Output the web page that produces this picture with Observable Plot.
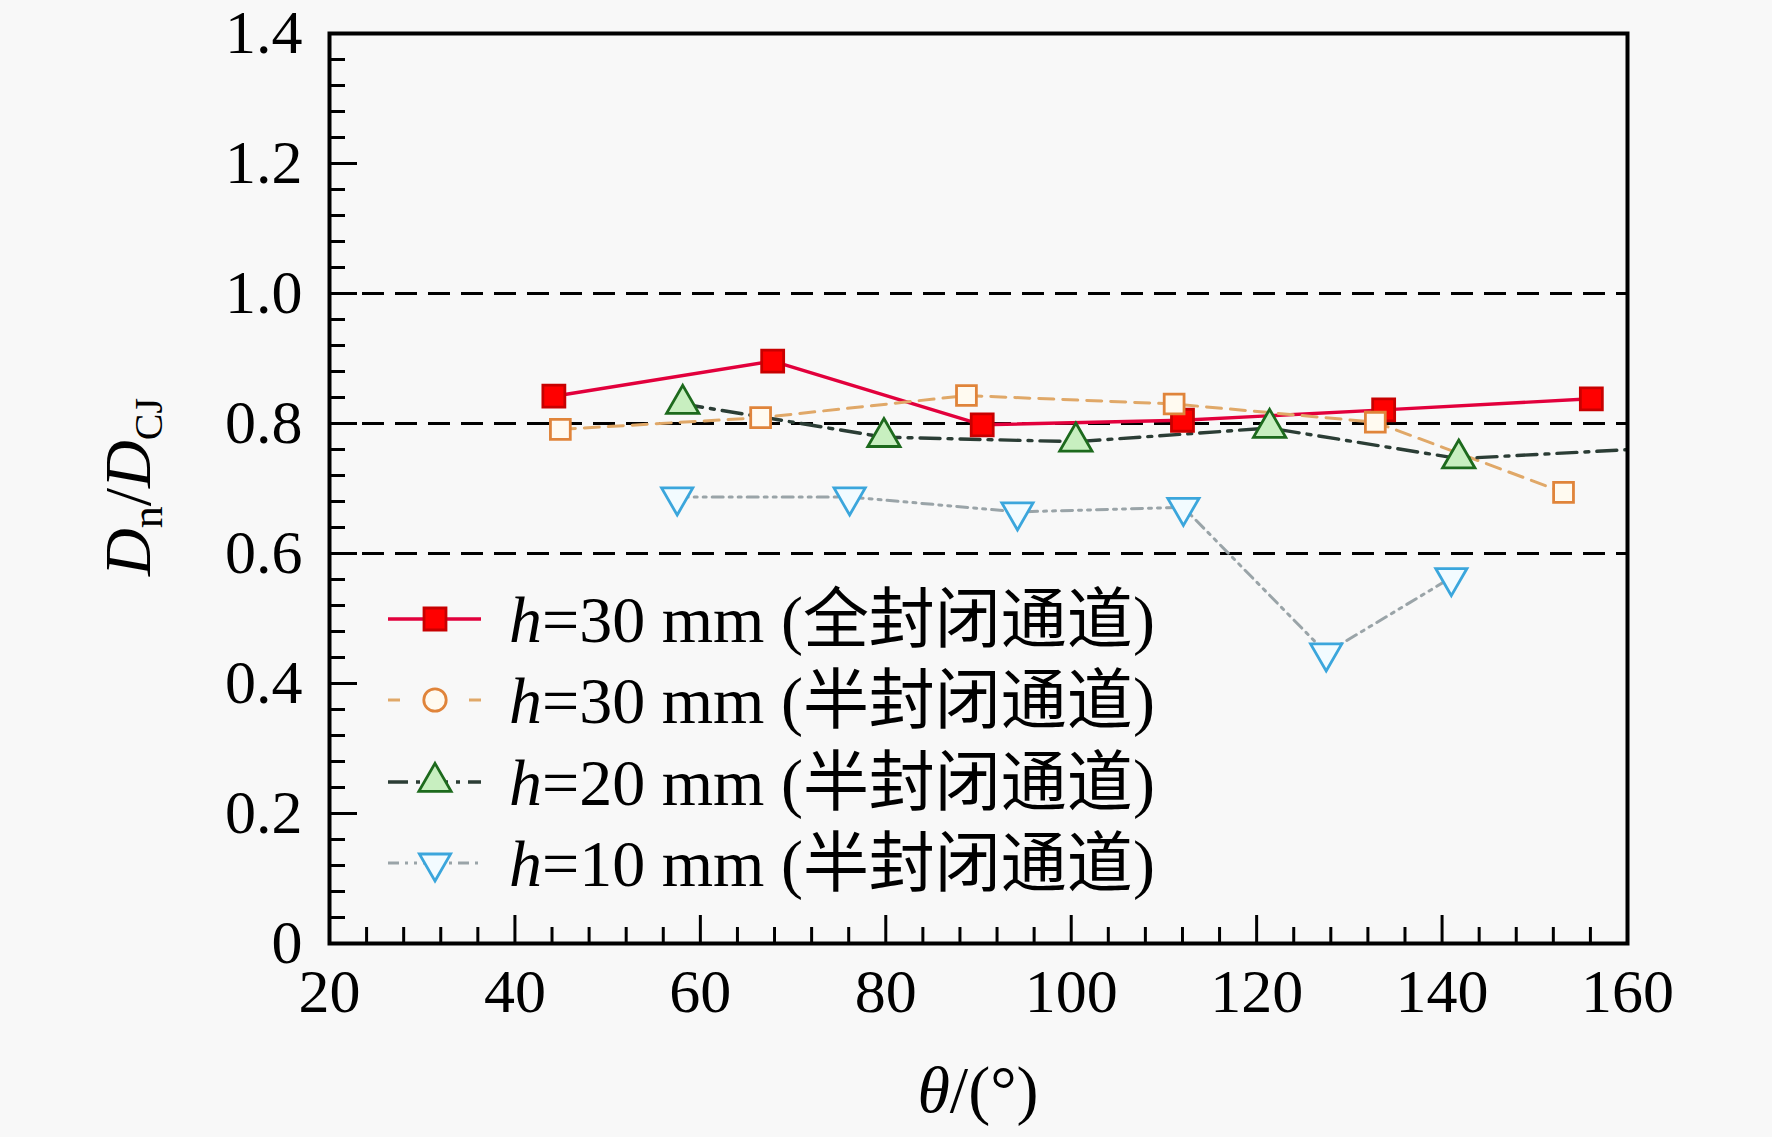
<!DOCTYPE html>
<html><head><meta charset="utf-8">
<script src="https://cdn.jsdelivr.net/npm/d3@7"></script>
<script src="https://cdn.jsdelivr.net/npm/@observablehq/plot@0.6"></script>
<style>
html,body{margin:0;padding:0;background:#f8f8f8;overflow:hidden}
#chart svg{display:block}
</style></head><body><div id="chart"></div>
<script>
// ---- data ----
const xFull30 = [44.2, 67.8, 90.4, 112.0, 133.7, 156.1];
const yFull30 = [0.842, 0.896, 0.798, 0.805, 0.821, 0.838];
const xSemi30 = [44.9, 66.5, 88.7, 111.1, 132.8, 153.1];
const ySemi30 = [0.791, 0.809, 0.843, 0.830, 0.802, 0.694];
const xSemi20 = [58.1, 79.8, 100.5, 121.4, 141.8, 163.0];
const ySemi20 = [0.830, 0.779, 0.772, 0.793, 0.746, 0.762];
const xSemi10 = [57.5, 76.1, 94.2, 112.1, 127.5, 141.0];
const ySemi10 = [0.687, 0.687, 0.664, 0.671, 0.447, 0.563];
const legendH = ["30", "30", "20", "10"];
const legendKind = ["全封闭通道", "半封闭通道", "半封闭通道", "半封闭通道"];
const xTicks = [20, 40, 60, 80, 100, 120, 140, 160];
const yTicks = [0, 0.2, 0.4, 0.6, 0.8, 1.0, 1.2, 1.4];
const refLines = [0.6, 0.8, 1.0];

const zip = (xs, ys) => xs.map((x, i) => ({x, y: ys[i]}));
const full30 = zip(xFull30, yFull30);
const semi30 = zip(xSemi30, ySemi30);
const semi20 = zip(xSemi20, ySemi20);
const semi10 = zip(xSemi10, ySemi10);

const xMinor = d3.range(20, 160.001, 4).filter(v => v % 20 !== 0);
const yMinor = d3.range(0, 1.4001, 0.04).map(v => +v.toFixed(2)).filter(v => Math.abs(v / 0.2 - Math.round(v / 0.2)) > 1e-6);

const W = 1772, H = 1137;
const mL = 329, mR = 145, mT = 33, mB = 194;
const pw = W - mL - mR, ph = H - mT - mB;

const downTriangle = {
  draw(ctx, size) {
    const y = -Math.sqrt(size / (Math.sqrt(3) * 3));
    ctx.moveTo(0, -y * 2);
    ctx.lineTo(-Math.sqrt(3) * y, y);
    ctx.lineTo(Math.sqrt(3) * y, y);
    ctx.closePath();
  }
};

const styles = [
  {line: "#e2003c", dash: null, width: 3.4, symbol: "square", fill: "#ff0000", stroke: "#c80000", r: 12.4},
  {line: "#e0a868", dash: "15,9", width: 3, symbol: "square", fill: "#fffaf0", stroke: "#e0843a", r: 11.2},
  {line: "#2b3d35", dash: "20,8,4,8", width: 3.4, symbol: "triangle", fill: "#c8efc0", stroke: "#1d6a1d", r: 12},
  {line: "#9aa4a8", dash: "11,6,3,6,3,6", width: 3, symbol: downTriangle, fill: "#f2fbff", stroke: "#3ba6dc", r: 11.6}
];
const sets = [full30, semi30, semi20, semi10];

const marks = [
  Plot.ruleY(refLines, {stroke: "black", strokeWidth: 3, strokeDasharray: "22,11"}),
];
sets.forEach((data, i) => {
  const s = styles[i];
  marks.push(Plot.line(data, {x: "x", y: "y", stroke: s.line, strokeWidth: s.width, strokeDasharray: s.dash, clip: true}));
});
sets.forEach((data, i) => {
  const s = styles[i];
  marks.push(Plot.dot(data, {x: "x", y: "y", symbol: s.symbol, r: s.r, fill: s.fill, stroke: s.stroke, strokeWidth: 2.8, clip: true}));
});
marks.push(
  Plot.tickY(yMinor, {y: d => d, insetRight: pw - 16, stroke: "black", strokeWidth: 3}),
  Plot.tickY(yTicks, {y: d => d, insetRight: pw - 28, stroke: "black", strokeWidth: 3}),
  Plot.tickX(xMinor, {x: d => d, insetTop: ph - 16, stroke: "black", strokeWidth: 3}),
  Plot.tickX(xTicks, {x: d => d, insetTop: ph - 28, stroke: "black", strokeWidth: 3}),
  Plot.axisY({ticks: yTicks, tickSize: 0, tickPadding: 27, label: null,
    tickFormat: d => d === 0 ? "0" : d.toFixed(1), fontSize: 62}),
  Plot.axisX({ticks: xTicks, tickSize: 0, tickPadding: 24, label: null,
    tickFormat: d => String(d), fontSize: 62}),
  Plot.frame({stroke: "black", strokeWidth: 4})
);

const chart = Plot.plot({
  width: W, height: H,
  marginLeft: mL, marginRight: mR, marginTop: mT, marginBottom: mB,
  x: {domain: [20, 160]},
  y: {domain: [0, 1.4]},
  style: {background: "transparent", fontFamily: "'Liberation Serif', 'Times New Roman', serif", color: "black", overflow: "visible"},
  marks
});
document.getElementById("chart").appendChild(chart);

const svg = d3.select(chart);
const serif = "'Liberation Serif', 'Times New Roman', serif";
const cjk = "'Noto Sans CJK SC', sans-serif";

// y-axis label D_n / D_CJ
const yl = svg.append("text")
  .attr("transform", "translate(150,487) rotate(-90)")
  .attr("text-anchor", "middle")
  .attr("font-family", serif).attr("font-size", 66).attr("fill", "black");
yl.append("tspan").attr("font-style", "italic").text("D");
yl.append("tspan").attr("font-size", 44).attr("dy", 12).text("n");
yl.append("tspan").attr("dy", -12).text("/");
yl.append("tspan").attr("font-style", "italic").text("D");
yl.append("tspan").attr("font-size", 40).attr("dy", 12).text("CJ");

// x-axis label θ/(°)
const xl = svg.append("text")
  .attr("x", 978).attr("y", 1112)
  .attr("text-anchor", "middle")
  .attr("font-family", serif).attr("font-size", 66).attr("fill", "black");
xl.append("tspan").attr("font-style", "italic").text("θ");
xl.append("tspan").text("/(°)");

// legend
const rowY = [619, 700, 782, 863];
const lg = svg.append("g");
styles.forEach((s, i) => {
  const g = lg.append("g").attr("transform", `translate(0,${rowY[i]})`);
  g.append("line").attr("x1", 388).attr("x2", 481).attr("y1", 0).attr("y2", 0)
    .attr("stroke", s.line).attr("stroke-width", s.width)
    .attr("stroke-dasharray", s.dash ? (i === 1 ? "12,23,23,23,12" : s.dash) : null);
  const sym = i === 1 ? d3.symbolCircle : (typeof s.symbol === "string" ? (s.symbol === "square" ? d3.symbolSquare : d3.symbolTriangle) : s.symbol);
  g.append("path").attr("transform", "translate(435,0)")
    .attr("d", d3.symbol(sym, Math.PI * s.r * s.r)())
    .attr("fill", s.fill).attr("stroke", s.stroke).attr("stroke-width", 2.8);
  const t = g.append("text").attr("x", 509).attr("y", 23)
    .attr("text-anchor", "start")
    .attr("font-family", serif).attr("font-size", 66).attr("fill", "black");
  t.append("tspan").attr("font-style", "italic").text("h");
  t.append("tspan").text(`=${legendH[i]} mm (`);
  t.append("tspan").attr("font-family", cjk).attr("font-size", 66).text(legendKind[i]);
  t.append("tspan").text(")");
});
</script></body></html>
